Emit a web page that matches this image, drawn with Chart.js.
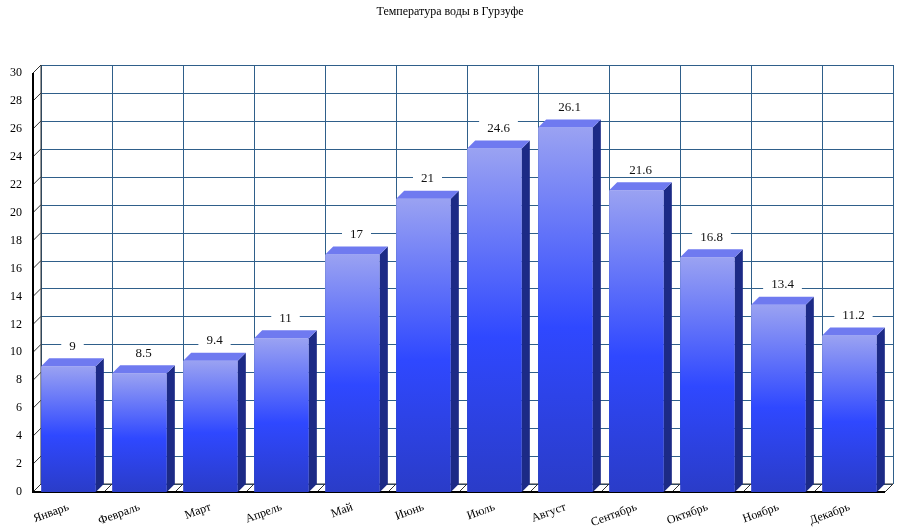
<!DOCTYPE html>
<html><head><meta charset="utf-8">
<script src="https://cdn.jsdelivr.net/npm/chart.js@4/dist/chart.umd.min.js"></script>
<style>body{margin:0;background:#fff}#wrap{width:900px;height:530px}</style>
</head><body><div id="wrap"><canvas id="c"></canvas></div>
<script>
var months = ['Январь','Февраль','Март','Апрель','Май','Июнь','Июль','Август','Сентябрь','Октябрь','Ноябрь','Декабрь']
var temps = [9, 8.5, 9.4, 11, 17, 21, 24.6, 26.1, 21.6, 16.8, 13.4, 11.2]
var titleText = 'Температура воды в Гурзуфе'
var D = 8 // 3d depth

var fake3d = {
    id: 'fake3d',
    beforeDatasetsDraw: function (chart) {
        var c = chart.ctx, y = chart.scales.y, a = chart.chartArea
        c.save()
        c.strokeStyle = '#2f5f8a'; c.lineWidth = 1
        for (var v = 0; v <= 30; v += 2) {
            var py = Math.round(y.getPixelForValue(v)) + 0.5
            c.beginPath(); c.moveTo(a.left + D, py - D); c.lineTo(a.right + D, py - D); c.stroke()
        }
        var n = months.length, w = (a.right - a.left) / n
        for (var i = 0; i <= n; i++) {
            var px = Math.round(a.left + i * w + D) + 0.5
            c.beginPath(); c.moveTo(px, a.top - D); c.lineTo(px, a.bottom - D); c.stroke()
        }
        // left side wall diagonals and floor
        c.strokeStyle = '#333'
        for (var v = 0; v <= 30; v += 2) {
            var py = y.getPixelForValue(v)
            c.beginPath(); c.moveTo(a.left, py); c.lineTo(a.left + D, py - D); c.stroke()
        }
        for (var i = 0; i <= n; i++) {
            var px = a.left + i * w
            c.beginPath(); c.moveTo(px, a.bottom); c.lineTo(px + D, a.bottom - D); c.stroke()
        }
        c.beginPath(); c.moveTo(a.left + D, a.top - D); c.lineTo(a.left + D, a.bottom - D); c.lineTo(a.right + D, a.bottom - D); c.stroke()
        c.strokeStyle = '#000'; c.lineWidth = 2
        c.beginPath(); c.moveTo(a.left, a.top); c.lineTo(a.left, a.bottom); c.lineTo(a.right, a.bottom); c.stroke()
        c.restore()
    },
    afterDatasetsDraw: function (chart) {
        var c = chart.ctx
        c.save()
        chart.getDatasetMeta(0).data.forEach(function (b, i) {
            var l = b.x - b.width / 2, r = b.x + b.width / 2, t = b.y, bt = b.base
            c.fillStyle = '#1c2a86'
            c.beginPath(); c.moveTo(r, t); c.lineTo(r + D, t - D); c.lineTo(r + D, bt - D); c.lineTo(r, bt); c.closePath(); c.fill()
            c.fillStyle = '#6f7af0'
            c.beginPath(); c.moveTo(l, t); c.lineTo(l + D, t - D); c.lineTo(r + D, t - D); c.lineTo(r, t); c.closePath(); c.fill()
            var txt = String(temps[i])
            c.font = '13px "Liberation Serif", serif'
            var tw = c.measureText(txt).width
            c.fillStyle = '#fff'
            c.fillRect(b.x + D / 2 - tw / 2 - 8, t - D - 20, tw + 16, 14)
            c.fillStyle = '#111'; c.textAlign = 'center'; c.textBaseline = 'middle'
            c.fillText(txt, b.x + D / 2, t - D - 12)
        })
        c.font = '12px "Liberation Serif", serif'; c.fillStyle = '#000'; c.textAlign = 'center'; c.textBaseline = 'middle'
        c.fillText(titleText, 450, 12)
        c.restore()
    }
}

new Chart(document.getElementById('c'), {
    type: 'bar',
    data: {
        labels: months,
        datasets: [{
            data: temps,
            categoryPercentage: 1,
            barPercentage: 0.77,
            borderWidth: 0,
            backgroundColor: function (ctx) {
                var ch = ctx.chart, s = ch.scales && ch.scales.y
                if (!s || ctx.raw === undefined) return '#3050f0'
                var top = s.getPixelForValue(ctx.raw), bot = s.getPixelForValue(0)
                if (!isFinite(top) || !isFinite(bot) || top === bot) return '#3050f0'
                var g = ch.ctx.createLinearGradient(0, top, 0, bot)
                g.addColorStop(0, '#9aa2f2')
                g.addColorStop(0.55, '#2f48ff')
                g.addColorStop(1, '#2a3cc8')
                return g
            }
        }]
    },
    options: {
        responsive: true, maintainAspectRatio: false, animation: false,
        layout: { padding: { top: 73, right: 15, left: 0, bottom: 0 } },
        plugins: { legend: { display: false }, tooltip: { enabled: false } },
        scales: {
            x: {
                grid: { display: false }, border: { display: false },
                ticks: { color: '#000', font: { family: '"Liberation Serif", serif', size: 12 }, minRotation: 20, maxRotation: 20, padding: 0 },
                afterFit: function (s) { s.height = 38 }
            },
            y: {
                min: 0, max: 30,
                grid: { display: false }, border: { display: false },
                ticks: { stepSize: 2, color: '#000', font: { family: '"Liberation Serif", serif', size: 12 } },
                afterFit: function (s) { s.width = 33 }
            }
        }
    },
    plugins: [fake3d]
})
</script></body></html>
